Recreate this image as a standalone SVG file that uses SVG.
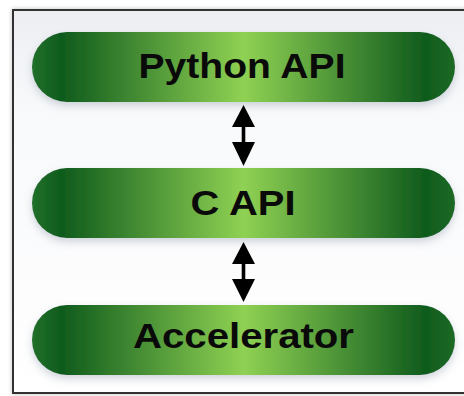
<svg xmlns="http://www.w3.org/2000/svg" width="464" height="396" viewBox="0 0 464 396">
  <defs>
    <linearGradient id="panelFill" x1="0" y1="0" x2="0" y2="1">
      <stop offset="0" stop-color="#eceef2"/>
      <stop offset="0.25" stop-color="#f8f9fb"/>
      <stop offset="1" stop-color="#ffffff"/>
    </linearGradient>
    <linearGradient id="pillFill" x1="0" y1="0" x2="1" y2="0">
      <stop offset="0" stop-color="#21702a"/>
      <stop offset="0.07" stop-color="#0f5b1d"/>
      <stop offset="0.5" stop-color="#8fd153"/>
      <stop offset="0.93" stop-color="#0f5b1d"/>
      <stop offset="1" stop-color="#1c6a25"/>
    </linearGradient>
    <filter id="pillShadow" x="-10%" y="-30%" width="120%" height="170%">
      <feDropShadow dx="0" dy="4" stdDeviation="4" flood-color="#7a8898" flood-opacity="0.35"/>
    </filter>
    <filter id="frameShadow" x="-5%" y="-5%" width="110%" height="110%">
      <feDropShadow dx="0" dy="0" stdDeviation="2" flood-color="#000" flood-opacity="0.25"/>
    </filter>
  </defs>
  <style>
    .pill { fill: url(#pillFill); filter: url(#pillShadow); }
    .label { font-family: "Liberation Sans", Arial, sans-serif; font-weight: bold; font-size: 35px; fill: #0a0a0a; text-anchor: middle; }
    .arrow { fill: #000; }
  </style>

  <rect width="464" height="396" fill="#ffffff"/>
  <!-- outer panel -->
  <path d="M476 10 H13 V393 H476" fill="url(#panelFill)" stroke="#333" stroke-width="2" filter="url(#frameShadow)"/>

  <g id="python-api">
    <rect class="pill" x="32" y="32" width="423" height="70" rx="35"/>
    <text class="label" x="242" y="78" textLength="207" lengthAdjust="spacingAndGlyphs">Python API</text>
  </g>

  <g id="c-api">
    <rect class="pill" x="32" y="168" width="423" height="70" rx="35"/>
    <text class="label" x="243" y="215" textLength="105" lengthAdjust="spacingAndGlyphs">C API</text>
  </g>

  <g id="accelerator">
    <rect class="pill" x="32" y="305" width="423" height="70" rx="35"/>
    <text class="label" x="243.5" y="348" textLength="221" lengthAdjust="spacingAndGlyphs">Accelerator</text>
  </g>

  <g id="connectors">
    <path class="arrow" d="M243.5 105 L255 127 L245.3 127 L245.3 142 L255 142 L243.5 166 L232 142 L241.7 142 L241.7 127 L232 127 Z"/>
    <path class="arrow" d="M243.5 242 L255 264 L245.3 264 L245.3 279 L255 279 L243.5 302 L232 279 L241.7 279 L241.7 264 L232 264 Z"/>
  </g>
</svg>
